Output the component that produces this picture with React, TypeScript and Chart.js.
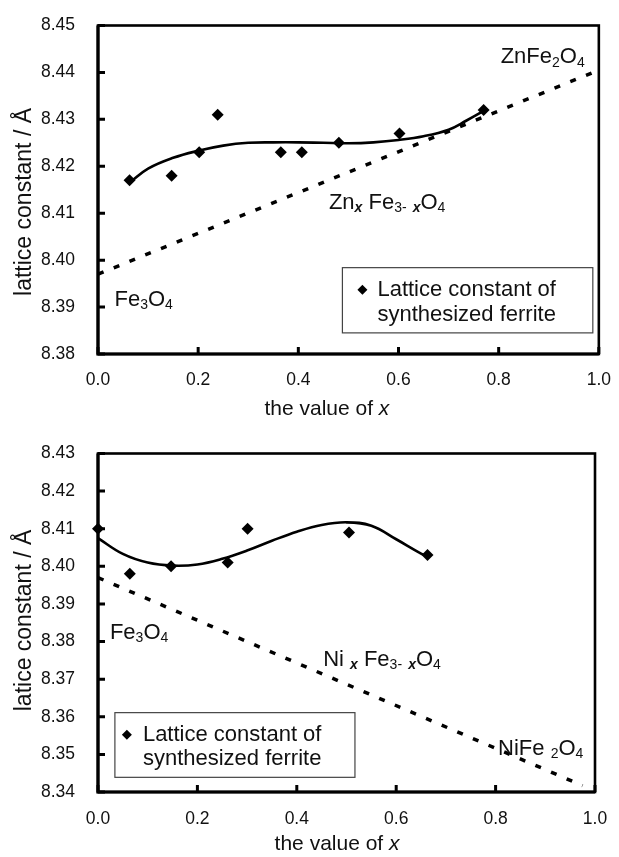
import React, { useEffect, useRef } from "react";
import { Chart, registerables } from "chart.js";
Chart.register(...registerables);

const FONT = "'Liberation Sans', Arial, Helvetica, sans-serif";

// ---------- Top chart: Zn ferrite ----------
const znPointX = [0.063, 0.147, 0.202, 0.239, 0.365, 0.407, 0.481, 0.602, 0.770];
const znPointY = [8.417, 8.418, 8.423, 8.431, 8.423, 8.423, 8.425, 8.427, 8.432];
const znFitX = [0.063, 0.1, 0.15, 0.2, 0.25, 0.3, 0.35, 0.4, 0.45, 0.5, 0.55, 0.6, 0.65, 0.7, 0.735, 0.775];
const znFitY = [8.4165, 8.4195, 8.4218, 8.4233, 8.4244, 8.425, 8.4251, 8.4251, 8.425, 8.4249, 8.4251, 8.4256, 8.4264, 8.4278, 8.4297, 8.4321];
const znLineX = [0, 1.0];
const znLineY = [8.397, 8.4405];
const znYTicks = [8.38, 8.39, 8.4, 8.41, 8.42, 8.43, 8.44, 8.45];

// ---------- Bottom chart: Ni ferrite ----------
const niPointX = [0.0, 0.064, 0.147, 0.261, 0.301, 0.505, 0.663];
const niPointY = [8.41, 8.398, 8.4, 8.401, 8.41, 8.409, 8.403];
const niFitX = [0, 0.05, 0.1, 0.15, 0.2, 0.25, 0.3, 0.35, 0.4, 0.45, 0.5, 0.55, 0.6, 0.65, 0.665];
const niFitY = [8.4075, 8.4033, 8.401, 8.4002, 8.4005, 8.402, 8.4042, 8.4068, 8.4092, 8.411, 8.4117, 8.4108, 8.4072, 8.4034, 8.4026];
const niLineX = [0, 0.975];
const niLineY = [8.397, 8.3417];
const niYTicks = [8.34, 8.35, 8.36, 8.37, 8.38, 8.39, 8.4, 8.41, 8.42, 8.43];

const xTicks = [0, 0.2, 0.4, 0.6, 0.8, 1.0];

type Part = { t: string; sub?: boolean; it?: boolean; bold?: boolean };
type Note = { x: number; y: number; parts: Part[] };

const pairs = (xs: number[], ys: number[]) => xs.map((x, i) => ({ x, y: ys[i] }));

function drawRich(ctx: CanvasRenderingContext2D, x: number, y: number, parts: Part[], size: number, subSize: number, align: string) {
  const fontFor = (p: Part) =>
    `${p.it ? "italic " : ""}${p.bold ? "bold " : ""}${p.sub ? subSize : size}px ${FONT}`;
  let total = 0;
  for (const p of parts) {
    ctx.font = fontFor(p);
    total += ctx.measureText(p.t).width;
  }
  let cx = align === "center" ? x - total / 2 : x;
  ctx.textAlign = "left";
  ctx.textBaseline = "middle";
  for (const p of parts) {
    ctx.font = fontFor(p);
    ctx.fillText(p.t, cx, y + (p.sub ? subSize * 0.4 : 0));
    cx += ctx.measureText(p.t).width;
  }
}

function diamond(ctx: CanvasRenderingContext2D, x: number, y: number, r: number) {
  ctx.beginPath();
  ctx.moveTo(x, y - r);
  ctx.lineTo(x + r, y);
  ctx.lineTo(x, y + r);
  ctx.lineTo(x - r, y);
  ctx.closePath();
  ctx.fill();
}

const framePlugin = {
  id: "frame",
  afterDatasetsDraw(chart: any, _args: any, opts: any) {
    const { ctx, chartArea: a, scales } = chart;
    const xs = scales.x;
    const ys = scales.y;
    ctx.save();
    ctx.strokeStyle = "#000";
    ctx.fillStyle = "#111";
    // frame
    ctx.lineWidth = 2.6;
    ctx.strokeRect(a.left, a.top, a.right - a.left, a.bottom - a.top);
    ctx.lineWidth = 3.2;
    ctx.beginPath();
    ctx.moveTo(a.left, a.top);
    ctx.lineTo(a.left, a.bottom);
    ctx.lineTo(a.right, a.bottom);
    ctx.stroke();
    // inward ticks
    ctx.lineWidth = 3;
    ctx.beginPath();
    for (const t of xs.ticks) {
      const px = xs.getPixelForValue(t.value);
      ctx.moveTo(px, a.bottom);
      ctx.lineTo(px, a.bottom - 7);
    }
    for (const t of ys.ticks) {
      const py = ys.getPixelForValue(t.value);
      ctx.moveTo(a.left, py);
      ctx.lineTo(a.left + 7, py);
    }
    ctx.stroke();

    // notes
    ctx.fillStyle = "#111";
    for (const n of opts.notes as Note[]) {
      drawRich(ctx, xs.getPixelForValue(n.x), ys.getPixelForValue(n.y), n.parts, 22, 14, "left");
    }

    // legend
    const L = opts.legend;
    const lx0 = xs.getPixelForValue(L.x0);
    const lx1 = xs.getPixelForValue(L.x1);
    const ly0 = ys.getPixelForValue(L.y0);
    const ly1 = ys.getPixelForValue(L.y1);
    ctx.fillStyle = "#fff";
    ctx.fillRect(lx0, ly0, lx1 - lx0, ly1 - ly0);
    ctx.strokeStyle = "#444";
    ctx.lineWidth = 1.2;
    ctx.strokeRect(lx0, ly0, lx1 - lx0, ly1 - ly0);
    ctx.fillStyle = "#000";
    diamond(ctx, lx0 + L.markerDx, ly0 + L.line1Dy, 5);
    ctx.fillStyle = "#111";
    ctx.font = `22px ${FONT}`;
    ctx.textAlign = "left";
    ctx.textBaseline = "middle";
    ctx.fillText(L.lines[0], lx0 + L.textDx, ly0 + L.line1Dy);
    ctx.fillText(L.lines[1], lx0 + L.textDx, ly0 + L.line2Dy);

    // x title
    drawRich(
      ctx,
      xs.getPixelForValue(opts.xTitle.x),
      a.bottom + opts.xTitle.dy,
      [{ t: "the value of " }, { t: "x", it: true }],
      21,
      21,
      "center"
    );
    // y title
    ctx.save();
    ctx.translate(25, ys.getPixelForValue(opts.yTitle.y));
    ctx.rotate(-Math.PI / 2);
    ctx.font = `23px ${FONT}`;
    ctx.textAlign = "center";
    ctx.textBaseline = "middle";
    ctx.fillText(opts.yTitle.text, 0, 0);
    ctx.restore();

    ctx.restore();
  },
};

type ChartProps = {
  height: number;
  padTop: number;
  padRight: number;
  xAxisHeight: number;
  xTickPad: number;
  yMin: number;
  yMax: number;
  yTicks: number[];
  points: { x: number; y: number }[];
  fit: { x: number; y: number }[];
  line: { x: number; y: number }[];
  frame: any;
};

function FerriteChart(p: ChartProps) {
  const ref = useRef<HTMLCanvasElement>(null);
  useEffect(() => {
    const chart = new Chart(ref.current as HTMLCanvasElement, {
      type: "scatter",
      data: {
        datasets: [
          {
            label: "Lattice constant of synthesized ferrite",
            data: p.points,
            showLine: false,
            pointStyle: "rectRot",
            pointRadius: 6,
            backgroundColor: "#000",
            borderColor: "#000",
            borderWidth: 0,
            clip: false,
          },
          {
            label: "fit",
            data: p.fit,
            showLine: true,
            pointRadius: 0,
            borderColor: "#000",
            borderWidth: 2.6,
            tension: 0.4,
            fill: false,
          },
          {
            label: "Vegard",
            data: p.line,
            showLine: true,
            pointRadius: 0,
            borderColor: "#000",
            borderWidth: 3.5,
            borderDash: [6, 11],
            fill: false,
          },
        ],
      } as any,
      options: {
        animation: false,
        responsive: false,
        events: [],
        layout: { padding: { top: p.padTop, right: p.padRight, left: 0, bottom: 0 } },
        plugins: {
          legend: { display: false },
          tooltip: { enabled: false },
          frame: p.frame,
        } as any,
        scales: {
          x: {
            type: "linear",
            min: 0,
            max: 1,
            grid: { display: false },
            border: { display: false },
            afterBuildTicks: (s: any) => {
              s.ticks = xTicks.map((v) => ({ value: v }));
            },
            afterFit: (s: any) => {
              s.height = p.xAxisHeight;
            },
            ticks: {
              autoSkip: false,
              maxRotation: 0,
              padding: p.xTickPad,
              color: "#111",
              font: { family: FONT, size: 17.5 },
              callback: (v: any) => Number(v).toFixed(1),
            },
          },
          y: {
            type: "linear",
            min: p.yMin,
            max: p.yMax,
            grid: { display: false },
            border: { display: false },
            afterBuildTicks: (s: any) => {
              s.ticks = p.yTicks.map((v) => ({ value: v }));
            },
            afterFit: (s: any) => {
              s.width = 98;
            },
            ticks: {
              autoSkip: false,
              padding: 15,
              color: "#111",
              font: { family: FONT, size: 17.5 },
              callback: (v: any) => Number(v).toFixed(2),
            },
          },
        },
      } as any,
      plugins: [framePlugin as any],
    });
    return () => chart.destroy();
  }, []);
  return (
    <canvas
      ref={ref}
      width={619}
      height={p.height}
      style={{ display: "block", width: 619, height: p.height }}
    />
  );
}

const sub = (t: string): Part => ({ t, sub: true });
const subX: Part = { t: "x", sub: true, it: true, bold: true };

export default function App() {
  return (
    <div style={{ position: "absolute", left: 0, top: 0, width: 619, height: 857, background: "#fff" }}>
      <FerriteChart
        height={428}
        padTop={15}
        padRight={11}
        xAxisHeight={74}
        xTickPad={8}
        yMin={8.38}
        yMax={8.45}
        yTicks={znYTicks}
        points={pairs(znPointX, znPointY)}
        fit={pairs(znFitX, znFitY)}
        line={pairs(znLineX, znLineY)}
        frame={{
          notes: [
            { x: 0.804, y: 8.4432, parts: [{ t: "ZnFe" }, sub("2"), { t: "O" }, sub("4")] },
            {
              x: 0.461,
              y: 8.4122,
              parts: [{ t: "Zn" }, subX, { t: " Fe" }, sub("3-"), { t: " " }, subX, { t: "O" }, sub("4")],
            },
            { x: 0.033, y: 8.3916, parts: [{ t: "Fe" }, sub("3"), { t: "O" }, sub("4")] },
          ],
          legend: {
            x0: 0.488,
            x1: 0.988,
            y0: 8.3984,
            y1: 8.3845,
            markerDx: 20,
            textDx: 35,
            line1Dy: 22,
            line2Dy: 47,
            lines: ["Lattice constant of", "synthesized ferrite"],
          },
          xTitle: { x: 0.457, dy: 55 },
          yTitle: { y: 8.4124, text: "lattice constant / Å" },
        }}
      />
      <FerriteChart
        height={429}
        padTop={19}
        padRight={24}
        xAxisHeight={65}
        xTickPad={9}
        yMin={8.34}
        yMax={8.43}
        yTicks={niYTicks}
        points={pairs(niPointX, niPointY)}
        fit={pairs(niFitX, niFitY)}
        line={pairs(niLineX, niLineY)}
        frame={{
          notes: [
            { x: 0.024, y: 8.3823, parts: [{ t: "Fe" }, sub("3"), { t: "O" }, sub("4")] },
            {
              x: 0.453,
              y: 8.3752,
              parts: [{ t: "Ni " }, subX, { t: " Fe" }, sub("3-"), { t: " " }, subX, { t: "O" }, sub("4")],
            },
            { x: 0.805, y: 8.3515, parts: [{ t: "NiFe " }, sub("2"), { t: "O" }, sub("4")] },
          ],
          legend: {
            x0: 0.034,
            x1: 0.517,
            y0: 8.3611,
            y1: 8.3439,
            markerDx: 12,
            textDx: 28,
            line1Dy: 22,
            line2Dy: 46,
            lines: ["Lattice constant of", "synthesized ferrite"],
          },
          xTitle: { x: 0.481, dy: 52 },
          yTitle: { y: 8.3856, text: "latice constant / Å" },
        }}
      />
    </div>
  );
}
